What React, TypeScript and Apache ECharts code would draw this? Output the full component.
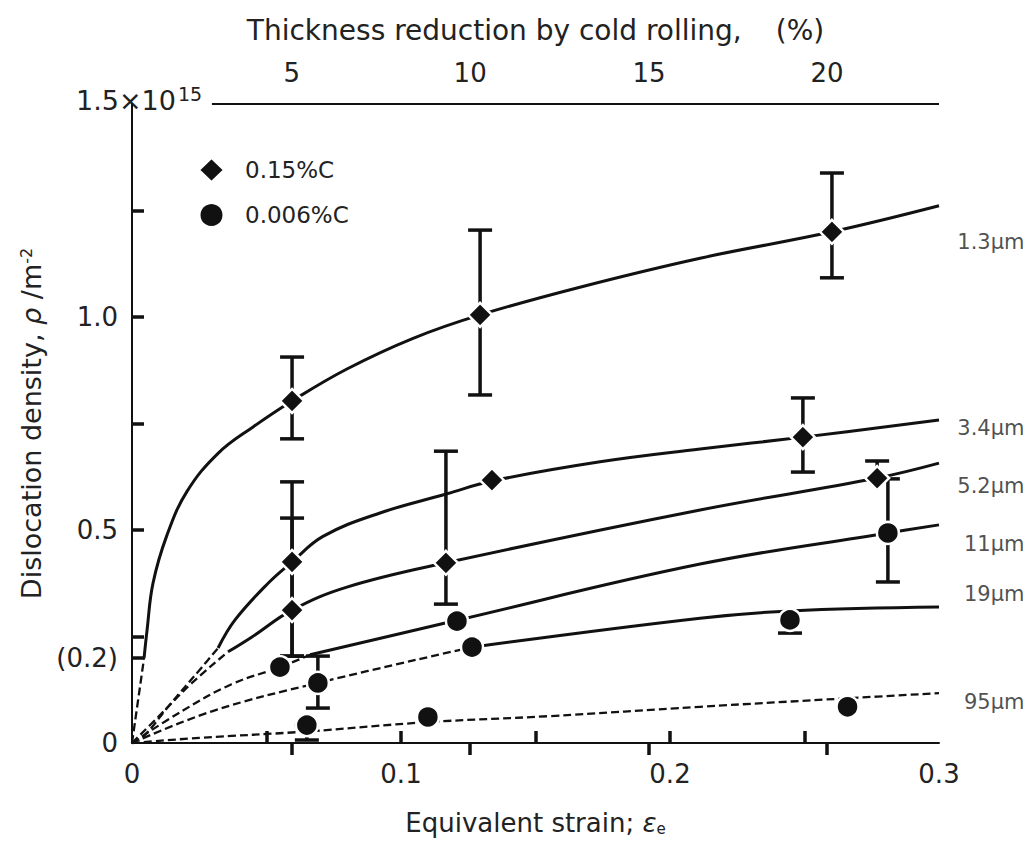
import React, { useEffect, useRef } from "react";
import * as echarts from "echarts";

const FONT = "'DejaVu Sans', 'Liberation Sans', sans-serif";
const INK = "#111";
const TXT = "#222";

// ---- axis ticks / labels ----
const strainTicks = [0.05, 0.1, 0.15, 0.2, 0.25];
const strainLabels = [0, 0.1, 0.2, 0.3];
const rhoTicks = [0.2, 0.25, 0.5, 0.75, 1.0, 1.25];
const rhoLabels = [0, 0.2, 0.5, 1.0];
const reductionLabels = ["5", "10", "15", "20"];
const reductionStrain = [0.0594, 0.1257, 0.1922, 0.2584];
const leftAxisSpan = [0, 1.462];
const topAxisSpan = [0.0297, 0.3];

// ---- fitted curves (strain, rho x1e15) ----
const c13Dash = [[0, 0], [0.0045, 0.2]];
const c13Solid = [[0.0045, 0.2], [0.0056, 0.265], [0.0078, 0.375], [0.013, 0.488], [0.0204, 0.59], [0.032, 0.68], [0.045, 0.742], [0.0595, 0.803], [0.0799, 0.878], [0.1045, 0.95], [0.1294, 1.005], [0.1665, 1.07], [0.2112, 1.138], [0.2602, 1.2], [0.3, 1.261]];
const c34Dash = [[0, 0], [0.0048, 0.019], [0.0134, 0.085], [0.026, 0.178], [0.032, 0.223]];
const c34Solid = [[0.032, 0.223], [0.0383, 0.289], [0.0506, 0.375], [0.0595, 0.425], [0.071, 0.485], [0.0922, 0.54], [0.1171, 0.585], [0.1338, 0.615], [0.174, 0.66], [0.2112, 0.69], [0.2494, 0.718], [0.3, 0.758]];
const c52Dash = [[0, 0], [0.0097, 0.061], [0.0223, 0.141], [0.0357, 0.214]];
const c52Solid = [[0.0357, 0.214], [0.0446, 0.249], [0.0595, 0.312], [0.0799, 0.366], [0.1167, 0.423], [0.2112, 0.547], [0.277, 0.622], [0.3, 0.657]];
const c11Dash = [[0, 0], [0.0186, 0.075], [0.037, 0.138], [0.055, 0.178], [0.0662, 0.207]];
const c11Solid = [[0.0662, 0.207], [0.1208, 0.288], [0.2112, 0.42], [0.281, 0.493], [0.3, 0.512]];
const c19Dash = [[0, 0], [0.03, 0.075], [0.0691, 0.141], [0.1264, 0.225]];
const c19Solid = [[0.1264, 0.225], [0.2112, 0.293], [0.2446, 0.31], [0.3, 0.319]];
const c95Dash = [[0, 0], [0.025, 0.012], [0.065, 0.027], [0.11, 0.049], [0.155, 0.063], [0.2112, 0.085], [0.266, 0.105], [0.3, 0.117]];
const c95Solid: number[][] = [];

// ---- measured points ----
const points015C = [[0.0595, 0.803], [0.1294, 1.005], [0.2602, 1.2], [0.0595, 0.425], [0.1338, 0.617], [0.2494, 0.718], [0.0595, 0.312], [0.1167, 0.423], [0.277, 0.622]];
const points0006C = [[0.055, 0.178], [0.1208, 0.286], [0.281, 0.493], [0.0691, 0.141], [0.1264, 0.225], [0.2446, 0.289], [0.065, 0.042], [0.11, 0.061], [0.266, 0.085]];

// [strain, low, high]
const errorBars = [
  [0.0595, 0.714, 0.906],
  [0.1294, 0.817, 1.204],
  [0.2602, 1.092, 1.338],
  [0.0595, 0.204, 0.613],
  [0.0595, 0.204, 0.528],
  [0.2494, 0.636, 0.81],
  [0.1167, 0.326, 0.685],
  [0.277, 0.622, 0.662],
  [0.281, 0.378, 0.62],
  [0.0691, 0.082, 0.204],
  [0.2446, 0.258, 0.289],
  [0.065, 0.007, 0.042],
];

// ---- grain size labels ----
const sizeLabels = ["1.3μm", "3.4μm", "5.2μm", "11μm", "19μm", "95μm"];
const sizeLabelRho = [1.176, 0.739, 0.603, 0.467, 0.349, 0.094];

const curves = [
  { dash: c13Dash, solid: c13Solid },
  { dash: c34Dash, solid: c34Solid },
  { dash: c52Dash, solid: c52Solid },
  { dash: c11Dash, solid: c11Solid },
  { dash: c19Dash, solid: c19Solid },
  { dash: c95Dash, solid: c95Solid },
];

function lineSeries(data: number[][], dashed: boolean) {
  return {
    type: "line",
    data,
    symbol: "none",
    smooth: 0.4,
    clip: false,
    silent: true,
    z: 2,
    lineStyle: dashed
      ? { color: INK, width: 2.3, type: [8, 4] }
      : { color: INK, width: 3 },
  };
}

const near = (a: number, b: number) => Math.abs(a - b) < 1e-6;

export default function App() {
  const ref = useRef<HTMLDivElement>(null);

  useEffect(() => {
    if (!ref.current) return;
    const chart = echarts.init(ref.current, null, { renderer: "svg" });

    const axisLineStyle = { color: INK, width: 2 };
    const tickStyle = { color: INK, width: 3.5 };
    const labelFont = { fontFamily: FONT, fontSize: 26, color: TXT };

    const option: any = {
      animation: false,
      backgroundColor: "#fff",
      textStyle: { fontFamily: FONT },
      grid: { left: 132, right: 92, top: 104, bottom: 103, containLabel: false },
      legend: {
        orient: "vertical",
        left: 193,
        top: 152,
        itemWidth: 25,
        itemHeight: 24,
        itemGap: 19,
        selectedMode: false,
        textStyle: { fontFamily: FONT, fontSize: 23, color: TXT, padding: [0, 0, 0, 16], lineHeight: 24 },
        data: [
          { name: "0.15%C", icon: "diamond" },
          { name: "0.006%C", icon: "circle" },
        ],
      },
      xAxis: [
        {
          type: "value",
          position: "bottom",
          min: 0,
          max: 0.3,
          axisLine: { show: true, onZero: false, lineStyle: axisLineStyle },
          axisTick: { show: true, inside: true, length: 12, customValues: strainTicks, lineStyle: tickStyle },
          axisLabel: {
            ...labelFont,
            margin: 18,
            customValues: strainLabels,
            formatter: (v: number) => (near(v, 0) ? "0" : String(Math.round(v * 10) / 10)),
          },
          splitLine: { show: false },
          name: "{a|Equivalent strain; }{e|ε}{s|e}",
          nameLocation: "middle",
          nameGap: 67,
          nameTextStyle: {
            rich: {
              a: { fontFamily: FONT, fontSize: 26, color: TXT },
              e: { fontFamily: FONT, fontSize: 26, fontStyle: "italic", color: TXT },
              s: { fontFamily: FONT, fontSize: 15, color: TXT, verticalAlign: "bottom", padding: [8, 0, 0, 0] },
            },
          },
        },
        {
          type: "value",
          position: "top",
          min: 0,
          max: 0.3,
          axisLine: { show: false },
          axisTick: { show: true, inside: true, length: 12, customValues: reductionStrain, lineStyle: tickStyle },
          axisLabel: {
            ...labelFont,
            margin: 18,
            customValues: reductionStrain,
            formatter: (v: number) => {
              const i = reductionStrain.findIndex((s) => Math.abs(s - v) < 1e-4);
              return i >= 0 ? reductionLabels[i] : "";
            },
          },
          splitLine: { show: false },
          name: "{a|Thickness reduction by cold rolling,}{g|\u00a0}{a|(%)}",
          nameLocation: "middle",
          nameGap: 60,
          nameTextStyle: {
            rich: {
              a: { fontFamily: FONT, fontSize: 28, color: TXT },
              g: { fontFamily: FONT, fontSize: 28, width: 34 },
            },
          },
        },
      ],
      yAxis: [
        {
          type: "value",
          position: "left",
          min: 0,
          max: 1.5,
          axisLine: { show: false },
          axisTick: { show: true, inside: true, length: 12, customValues: rhoTicks, lineStyle: tickStyle },
          axisLabel: {
            ...labelFont,
            margin: 14,
            customValues: rhoLabels,
            formatter: (v: number) => (near(v, 0) ? "0" : near(v, 0.2) ? "(0.2)" : v.toFixed(1)),
          },
          splitLine: { show: false },
          name: "{a|Dislocation density, }{r|ρ}{a| /m}{s|-2}",
          nameLocation: "middle",
          nameRotate: 90,
          nameGap: 84,
          nameTextStyle: {
            rich: {
              a: { fontFamily: FONT, fontSize: 27, color: TXT },
              r: { fontFamily: FONT, fontSize: 27, fontStyle: "italic", color: TXT },
              s: { fontFamily: FONT, fontSize: 16, color: TXT, verticalAlign: "top" },
            },
          },
        },
        {
          type: "value",
          position: "right",
          min: 0,
          max: 1.5,
          axisLine: { show: true, lineStyle: axisLineStyle },
          axisTick: { show: false },
          axisLabel: { show: false },
          splitLine: { show: false },
        },
      ],
      graphic: [
        {
          type: "text",
          x: 76,
          y: 100,
          style: { text: "1.5×10", fontFamily: FONT, fontSize: 27, fill: TXT, verticalAlign: "middle", align: "left" },
        },
        {
          type: "text",
          x: 178,
          y: 94,
          style: { text: "15", fontFamily: FONT, fontSize: 19, fill: TXT, verticalAlign: "middle", align: "left" },
        },
      ],
      series: [
        {
          type: "line",
          data: leftAxisSpan.map((y) => [0, y]),
          symbol: "none",
          clip: false,
          silent: true,
          z: 1,
          lineStyle: { color: INK, width: 2 },
        },
        {
          type: "line",
          data: topAxisSpan.map((x) => [x, 1.5]),
          symbol: "none",
          clip: false,
          silent: true,
          z: 1,
          lineStyle: { color: INK, width: 2 },
        },
        ...curves.flatMap((c) => [lineSeries(c.dash, true), lineSeries(c.solid, false)]),
        {
          type: "custom",
          data: errorBars,
          clip: false,
          silent: true,
          z: 3,
          encode: { x: 0, y: [1, 2] },
          renderItem: (_params: any, api: any) => {
            const x = api.value(0);
            const lo = api.coord([x, api.value(1)]);
            const hi = api.coord([x, api.value(2)]);
            const hw = 12;
            const style = { stroke: INK, lineWidth: 3.5 };
            return {
              type: "group",
              children: [
                { type: "line", shape: { x1: lo[0], y1: lo[1], x2: hi[0], y2: hi[1] }, style },
                { type: "line", shape: { x1: lo[0] - hw, y1: lo[1], x2: lo[0] + hw, y2: lo[1] }, style },
                { type: "line", shape: { x1: hi[0] - hw, y1: hi[1], x2: hi[0] + hw, y2: hi[1] }, style },
              ],
            };
          },
        },
        {
          name: "0.15%C",
          type: "scatter",
          data: points015C,
          symbol: "diamond",
          symbolSize: 24,
          silent: true,
          z: 4,
          itemStyle: { color: INK, borderColor: "#fff", borderWidth: 2.5, opacity: 1 },
        },
        {
          name: "0.006%C",
          type: "scatter",
          data: points0006C,
          symbol: "circle",
          symbolSize: 22,
          silent: true,
          z: 4,
          itemStyle: { color: INK, borderColor: "#fff", borderWidth: 2.5, opacity: 1 },
        },
        {
          type: "scatter",
          data: sizeLabels.map((t, i) => [0.3, sizeLabelRho[i], t]),
          symbolSize: 1,
          silent: true,
          clip: false,
          z: 5,
          itemStyle: { color: "rgba(0,0,0,0)" },
          label: {
            show: true,
            position: [86, 0],
            align: "right",
            verticalAlign: "middle",
            fontFamily: FONT,
            fontSize: 21,
            color: TXT,
            formatter: (p: any) => p.data[2],
          },
        },
      ],
    };

    chart.setOption(option);
    return () => chart.dispose();
  }, []);

  return (
    <div
      ref={ref}
      style={{ position: "absolute", left: 0, top: 0, width: 1031, height: 846, background: "#fff" }}
    />
  );
}
